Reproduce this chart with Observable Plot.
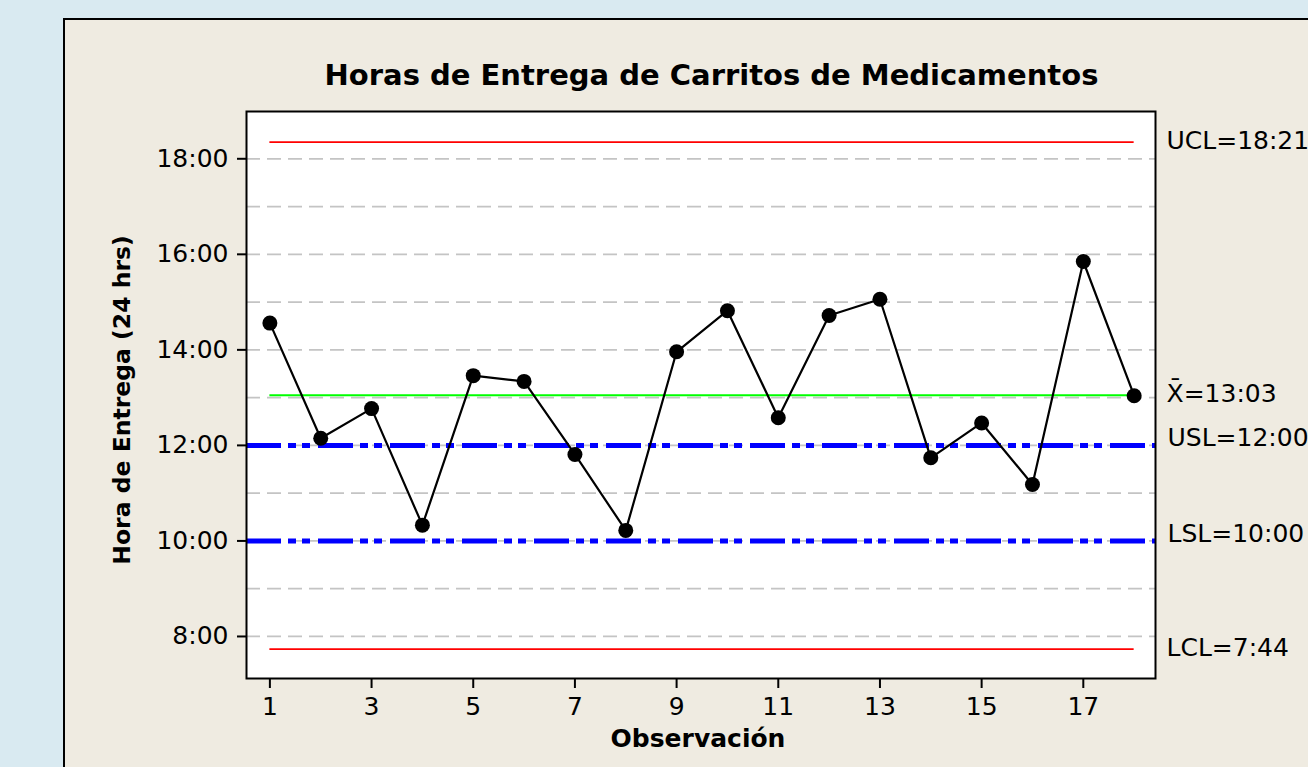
<!DOCTYPE html>
<html>
<head>
<meta charset="utf-8">
<script src="https://cdn.jsdelivr.net/npm/d3@7"></script>
<script src="https://cdn.jsdelivr.net/npm/@observablehq/plot@0.6"></script>
<style>
  html, body { margin: 0; padding: 0; width: 1308px; height: 767px; overflow: hidden; background: #d9eaf1; }
  #panel { position: absolute; left: 63px; top: 18px; width: 1400px; height: 900px; border: 2px solid #000; background: #efebe1; box-sizing: border-box; }
  #chart { position: absolute; left: 0; top: 0; }
</style>
</head>
<body>
<div id="panel"></div>
<div id="chart"></div>
<script>
// Data
const obs = [1, 2, 3, 4, 5, 6, 7, 8, 9, 10, 11, 12, 13, 14, 15, 16, 17, 18];
const hours = [14.56, 12.15, 12.77, 10.33, 13.46, 13.34, 11.81, 10.22, 13.96, 14.82, 12.58, 14.72, 15.06, 11.74, 12.47, 11.18, 15.85, 13.04];
const xTicks = [1, 3, 5, 7, 9, 11, 13, 15, 17];
const yTicks = [8, 10, 12, 14, 16, 18];
const gridHours = [8, 9, 10, 11, 12, 13, 14, 15, 16, 17, 18];
const controlNames = ["UCL=18:21", "X\u0304=13:03", "LCL=7:44"];
const controlValues = [18 + 21 / 60, 13 + 3 / 60, 7 + 44 / 60];
const specNames = ["USL=12:00", "LSL=10:00"];
const specValues = [12, 10];
const title = "Horas de Entrega de Carritos de Medicamentos";
const xLabel = "Observación";
const yLabel = "Hora de Entrega (24 hrs)";

const data = obs.map((o, i) => ({obs: o, hour: hours[i]}));
const limits = [
  {name: controlNames[0], value: controlValues[0], color: "#ff0000"},
  {name: controlNames[1], value: controlValues[1], color: "#00ff00"},
  {name: controlNames[2], value: controlValues[2], color: "#ff0000"}
];
const specs = specNames.map((n, i) => ({name: n, value: specValues[i]}));

const chart = Plot.plot({
  width: 1308,
  height: 767,
  marginLeft: 246,
  marginRight: 153,
  marginTop: 111,
  marginBottom: 89,
  style: "background: transparent; overflow: visible; font-family: 'DejaVu Sans', Verdana, sans-serif; color: #000;",
  x: {domain: [0.54, 18.42]},
  y: {domain: [7.12, 18.99]},
  marks: [
    Plot.frame({fill: "white"}),
    Plot.ruleY(gridHours, {stroke: "#c4c4c4", strokeWidth: 1.7, strokeDasharray: "14,7"}),
    Plot.ruleY(specs, {y: "value", stroke: "#0000ff", strokeWidth: 5, strokeDasharray: "35,7,8,6,8,8"}),
    Plot.ruleY(limits, {y: "value", x1: () => obs[0], x2: () => obs[obs.length - 1], stroke: d => d.color, strokeWidth: 1.8}),
    Plot.line(data, {x: "obs", y: "hour", stroke: "#000", strokeWidth: 2.2}),
    Plot.dot(data, {x: "obs", y: "hour", r: 7.5, fill: "#000", stroke: "none"}),
    Plot.axisX({ticks: xTicks, tickSize: 10, tickPadding: 9, fontSize: 25, label: null, strokeWidth: 2}),
    Plot.axisY({ticks: yTicks, tickFormat: d => `${d}:00`, tickSize: 9, tickPadding: 9, fontSize: 25, label: null, strokeWidth: 2}),
    Plot.text([title], {text: d => d, frameAnchor: "top", lineAnchor: "middle", textAnchor: "middle", dx: 10.5, dy: -36, fontSize: 29, fontWeight: "bold"}),
    Plot.text([xLabel], {text: d => d, frameAnchor: "bottom", lineAnchor: "middle", textAnchor: "middle", dx: -3, dy: 60, fontSize: 25, fontWeight: "bold"}),
    Plot.text([yLabel], {text: d => d, frameAnchor: "left", lineAnchor: "middle", textAnchor: "middle", rotate: -90, dx: -124, dy: 5, fontSize: 23.5, fontWeight: "bold"}),
    Plot.text(limits, {y: "value", text: "name", frameAnchor: "right", lineAnchor: "middle", textAnchor: "start", dx: 11, dy: -1.5, fontSize: 25}),
    Plot.text(specs, {y: "value", text: "name", frameAnchor: "right", lineAnchor: "middle", textAnchor: "start", dx: 12, dy: -7, fontSize: 25}),
    Plot.frame({stroke: "#000", strokeWidth: 2})
  ]
});
document.getElementById("chart").appendChild(chart);
</script>
</body>
</html>
